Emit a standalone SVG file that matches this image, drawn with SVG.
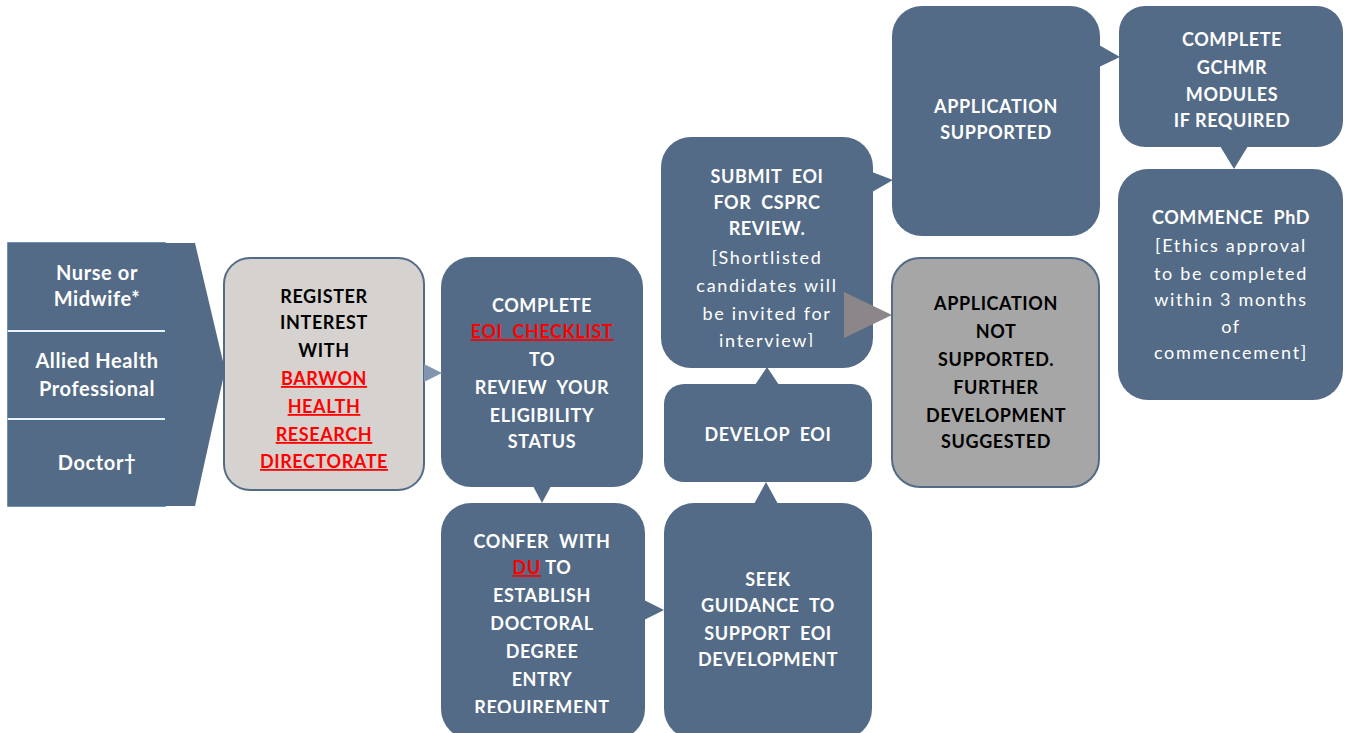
<svg xmlns="http://www.w3.org/2000/svg" width="1351" height="733" viewBox="0 0 1351 733">
<defs>
<style>
.box{fill:#536b86}
.lt{fill:#d6d2cf;stroke:#536b86;stroke-width:2}
.gr{fill:#a6a6a6;stroke:#536b86;stroke-width:2}
.ptr{fill:#536b86}
text{font-family:Lato,"Open Sans","Liberation Sans",sans-serif;text-anchor:middle;font-size:18px;letter-spacing:0.6px;white-space:pre}
.w{fill:#fff;font-weight:bold}
.k{fill:#000;font-weight:bold}
.r{fill:#ff0000;font-weight:bold;text-decoration:underline}
.n{fill:#fff;font-weight:normal;letter-spacing:1.7px}
.lp{fill:#fff;font-weight:bold;font-size:20px;letter-spacing:0.6px}
</style>
<clipPath id="clipSubmit"><rect x="661" y="137" width="212" height="210"/></clipPath>
<clipPath id="clipConfer"><rect x="441" y="503" width="204" height="210"/></clipPath>
</defs>
<rect width="1351" height="733" fill="#fff"/>

<g id="roles">
<polygon class="box" points="8,243 195,243 225,370 195,506 8,506"/>
<rect x="8" y="243" width="157" height="87" fill="#536b86" stroke="#4a6c92" stroke-width="1.5"/>
<rect x="8" y="332" width="157" height="86" fill="#536b86" stroke="#4a6c92" stroke-width="1.5"/>
<rect x="8" y="420" width="157" height="86" fill="#536b86" stroke="#4a6c92" stroke-width="1.5"/>
<line x1="8" y1="331" x2="165" y2="331" stroke="#eef2f6" stroke-width="2"/>
<line x1="8" y1="419" x2="165" y2="419" stroke="#eef2f6" stroke-width="2"/>
<text class="lp" x="97" y="280">Nurse or</text>
<text class="lp" x="97" y="306">Midwife*</text>
<text class="lp" x="97" y="368">Allied Health</text>
<text class="lp" x="97" y="396">Professional</text>
<text class="lp" x="97" y="470">Doctor†</text>
</g>

<g id="register">
<rect class="lt" x="224" y="258" width="200" height="232" rx="26"/>
<text class="k" x="324" y="303">REGISTER</text>
<text class="k" x="324" y="329">INTEREST</text>
<text class="k" x="324" y="357">WITH</text>
<text class="r" x="324" y="385">BARWON</text>
<text class="r" x="324" y="413">HEALTH</text>
<text class="r" x="324" y="441">RESEARCH</text>
<text class="r" x="324" y="468">DIRECTORATE</text>
</g>

<g id="complete-eoi">
<rect class="box" x="441" y="257" width="202" height="230" rx="30"/>
<text class="w" x="542" y="312">COMPLETE</text>
<text class="r" x="542" y="338">EOI  CHECKLIST</text>
<text class="w" x="542" y="366">TO</text>
<text class="w" x="542" y="394">REVIEW  YOUR</text>
<text class="w" x="542" y="422">ELIGIBILITY</text>
<text class="w" x="542" y="448">STATUS</text>
</g>

<g id="confer">
<rect class="box" x="441" y="503" width="204" height="236" rx="30"/>
<g clip-path="url(#clipConfer)">
<text class="w" x="542" y="548">CONFER  WITH</text>
<text x="542" y="574"><tspan class="r">DU</tspan><tspan class="w"> TO</tspan></text>
<text class="w" x="542" y="602">ESTABLISH</text>
<text class="w" x="542" y="630">DOCTORAL</text>
<text class="w" x="542" y="658">DEGREE</text>
<text class="w" x="542" y="686">ENTRY</text>
<text class="w" x="542" y="714">REQUIREMENT</text>
</g>
</g>

<g id="seek">
<rect class="box" x="664" y="503" width="208" height="236" rx="30"/>
<text class="w" x="768" y="586">SEEK</text>
<text class="w" x="768" y="612">GUIDANCE  TO</text>
<text class="w" x="768" y="640">SUPPORT  EOI</text>
<text class="w" x="768" y="666">DEVELOPMENT</text>
</g>

<g id="develop">
<rect class="box" x="664" y="384" width="208" height="98" rx="20"/>
<text class="w" x="768" y="441">DEVELOP  EOI</text>
</g>

<g id="submit">
<rect class="box" x="661" y="137" width="212" height="231" rx="30"/>
<g clip-path="url(#clipSubmit)">
<text class="w" x="767" y="183">SUBMIT  EOI</text>
<text class="w" x="767" y="209">FOR  CSPRC</text>
<text class="w" x="767" y="235">REVIEW.</text>
<text class="n" x="767" y="264">[Shortlisted</text>
<text class="n" x="767" y="292">candidates will</text>
<text class="n" x="767" y="320">be invited for</text>
<text class="n" x="767" y="347">interview]</text>
</g>
</g>

<g id="supported">
<rect class="box" x="892" y="6" width="208" height="230" rx="30"/>
<text class="w" x="996" y="113">APPLICATION</text>
<text class="w" x="996" y="139">SUPPORTED</text>
</g>

<g id="not-supported">
<rect class="gr" x="892" y="258" width="207" height="229" rx="28"/>
<text class="k" x="996" y="310">APPLICATION</text>
<text class="k" x="996" y="338">NOT</text>
<text class="k" x="996" y="366">SUPPORTED.</text>
<text class="k" x="996" y="394">FURTHER</text>
<text class="k" x="996" y="422">DEVELOPMENT</text>
<text class="k" x="996" y="448">SUGGESTED</text>
</g>

<g id="gchmr">
<rect class="box" x="1119" y="6" width="224" height="141" rx="26"/>
<text class="w" x="1232" y="46">COMPLETE</text>
<text class="w" x="1232" y="74">GCHMR</text>
<text class="w" x="1232" y="101">MODULES</text>
<text class="w" x="1232" y="127">IF REQUIRED</text>
</g>

<g id="commence">
<rect class="box" x="1118" y="169" width="225" height="231" rx="30"/>
<text class="w" x="1231" y="224">COMMENCE  PhD</text>
<text class="n" x="1231" y="252">[Ethics approval</text>
<text class="n" x="1231" y="280">to be completed</text>
<text class="n" x="1231" y="306">within 3 months</text>
<text class="n" x="1231" y="333">of</text>
<text class="n" x="1231" y="359">commencement]</text>
</g>

<g id="connectors">
<polygon points="424,364 442,373 424,382" fill="#8196ae"/>
<polygon class="ptr" points="533,486 551,486 542,503"/>
<polygon class="ptr" points="644,600 644,620 664,610"/>
<polygon class="ptr" points="754,504 778,504 766,482"/>
<polygon class="ptr" points="755,385 779,385 767,367"/>
<polygon class="ptr" points="872,172 872,192 893,180"/>
<polygon points="844,292 844,338 892,315" fill="#8a868a"/>
<polygon class="ptr" points="1099,45 1099,67 1120,57"/>
<polygon class="ptr" points="1220,146 1248,146 1234,169"/>
</g>
</svg>
